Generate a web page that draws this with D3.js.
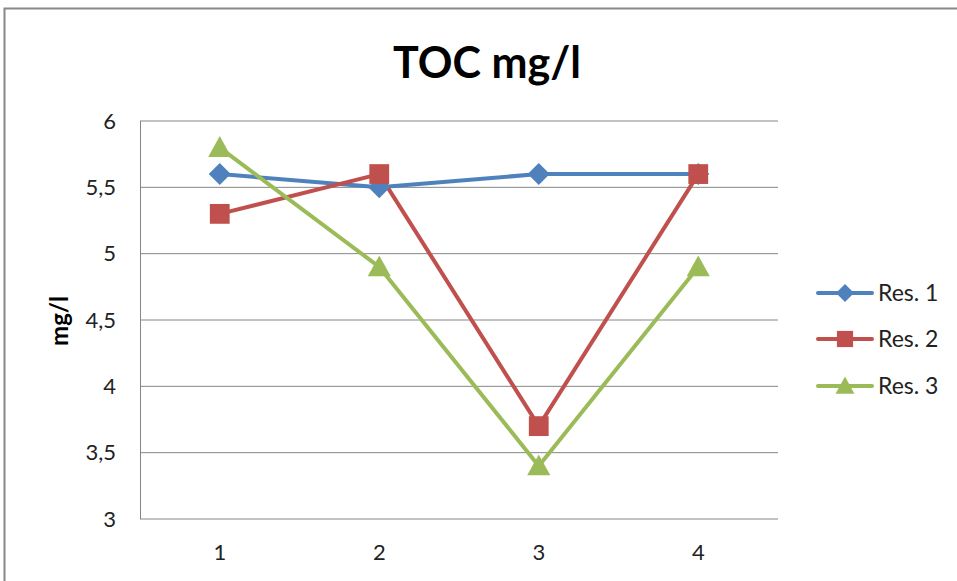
<!DOCTYPE html>
<html><head><meta charset="utf-8">
<script src="https://cdn.jsdelivr.net/npm/d3@7"></script>
<style>body{margin:0;background:#fff}svg{display:block;font-family:Lato,"Open Sans",sans-serif}</style>
</head><body><svg id="c" width="957" height="581"></svg>
<script>
const categories = ["1","2","3","4"];
const res1 = [5.6, 5.5, 5.6, 5.6];
const res2 = [5.3, 5.6, 3.7, 5.6];
const res3 = [5.8, 4.9, 3.4, 4.9];
const seriesNames = ["Res. 1","Res. 2","Res. 3"];
const yTicks = [3, 3.5, 4, 4.5, 5, 5.5, 6];
const yTickLabels = ["3","3,5","4","4,5","5","5,5","6"];

const colors = ["#4F81BD","#C0504D","#9BBB59"];
const series = [res1,res2,res3];

function marker(k, s){
  if(k===0){ const p=d3.path(); p.moveTo(0,-s);p.lineTo(s,0);p.lineTo(0,s);p.lineTo(-s,0);p.closePath(); return p.toString(); }
  if(k===1){ const p=d3.path(); p.rect(-s*0.9,-s*0.9,s*1.8,s*1.8); return p.toString(); }
  const p=d3.path(); p.moveTo(0,-s*1.05);p.lineTo(s*1.05,s*0.85);p.lineTo(-s*1.05,s*0.85);p.closePath(); return p.toString();
}

const svg = d3.select("#c");
svg.append("rect").attr("x",4.5).attr("y",8.5).attr("width",960).attr("height",580)
  .attr("fill","#fff").attr("stroke","#888").attr("stroke-width",2);

const L=140,R=778,T=121,B=519;
const x = d3.scaleBand().domain(categories).range([L,R]);
const y = d3.scaleLinear().domain([3,6]).range([B,T]);

svg.append("g").selectAll("line").data(yTicks).join("line")
  .attr("x1",L).attr("x2",R).attr("y1",d=>y(d)).attr("y2",d=>y(d))
  .attr("stroke","#868686").attr("stroke-width",1);
svg.append("line").attr("x1",L+0.5).attr("x2",L+0.5).attr("y1",T).attr("y2",B).attr("stroke","#868686");

const yAxis = d3.axisLeft(y).tickValues(yTicks).tickFormat((d,i)=>yTickLabels[i]).tickSize(0).tickPadding(24);
const gy = svg.append("g").attr("transform",`translate(${L},0)`).call(yAxis);
gy.select(".domain").remove();
gy.selectAll("text").attr("font-size",22).attr("fill","#222").attr("font-family","Lato");

const xAxis = d3.axisBottom(x).tickSize(0).tickPadding(25);
const gx = svg.append("g").attr("transform",`translate(0,${B})`).call(xAxis);
gx.select(".domain").remove();
gx.selectAll("text").attr("font-size",22).attr("fill","#222").attr("font-family","Lato");

svg.append("text").attr("x",487).attr("y",78).attr("text-anchor","middle")
  .attr("font-size",43).attr("font-weight","bold").attr("fill","#000").text("TOC mg/l");
svg.append("text").attr("transform","translate(68,321) rotate(-90)").attr("text-anchor","middle")
  .attr("font-size",24).attr("font-weight","bold").attr("fill","#000").text("mg/l");

const line = d3.line().x((d,i)=>x(categories[i])+x.bandwidth()/2).y(d=>y(d));
series.forEach((s,k)=>{
  svg.append("path").datum(s).attr("d",line).attr("fill","none")
    .attr("stroke",colors[k]).attr("stroke-width",4).attr("stroke-linejoin","round");
});
series.forEach((s,k)=>{
  svg.append("g").selectAll("path").data(s).join("path")
    .attr("d",marker(k,11))
    .attr("transform",(d,i)=>`translate(${x(categories[i])+x.bandwidth()/2},${y(d)})`)
    .attr("fill",colors[k]);
});

const legY=[293,339,386];
seriesNames.forEach((n,k)=>{
  const g=svg.append("g");
  g.append("line").attr("x1",818).attr("x2",872).attr("y1",legY[k]).attr("y2",legY[k])
    .attr("stroke",colors[k]).attr("stroke-width",4).attr("stroke-linecap","round");
  g.append("path").attr("d",marker(k,9)).attr("transform",`translate(845,${legY[k]})`).attr("fill",colors[k]);
  g.append("text").attr("x",878).attr("y",legY[k]).attr("dy","0.35em").attr("font-size",23).attr("fill","#222").text(n);
});
</script></body></html>
